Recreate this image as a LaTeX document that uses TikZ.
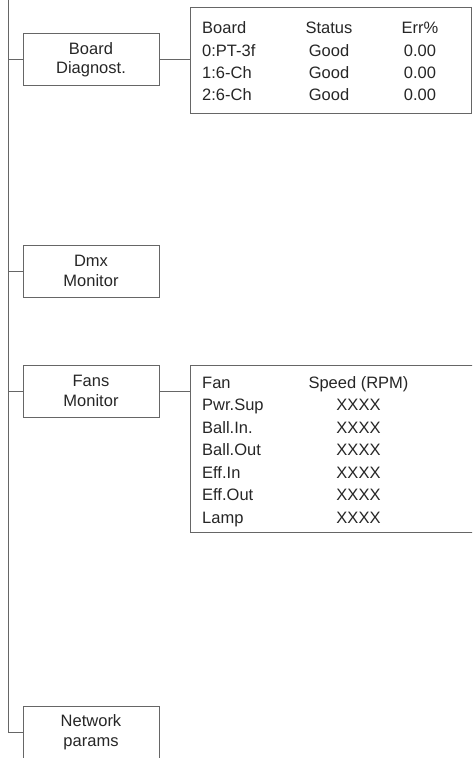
\documentclass[tikz,border=0pt]{standalone}
\usepackage{fontspec}
\setmainfont{Liberation Sans}
\usetikzlibrary{positioning,calc}

\begin{document}
\begin{tikzpicture}[x=1pt, y=-1pt,
  menubox/.style={draw=black!60, line width=0.8pt, minimum width=136pt, minimum height=52pt,
    align=center, inner sep=0pt, font=\fontsize{16.5}{19.5}\selectfont, text=black!85},
  tablebox/.style={draw=black!60, line width=0.8pt, inner sep=0pt},
  link/.style={draw=black!60, line width=0.8pt},
  cell/.style={anchor=base, inner sep=0pt, font=\fontsize{16.5}{22}\selectfont, text=black!85},
  firstcell/.style={cell, anchor=base west}]

  % page frame
  \clip (0,0) rectangle (472,758);

  % Menu entries
  \node[menubox] (board_box) at (91,59.5) {Board\\Diagnost.};
  \node[menubox] (dmx_box) at (91,271) {Dmx\\Monitor};
  \node[menubox] (fans_box) at (91,391) {Fans\\Monitor};
  \node[menubox] (network_box) at (91,732) {Network\\params};

  % Trunk and branches
  \coordinate (trunk_top) at (8,0);
  \draw[link] (trunk_top) -- (trunk_top |- network_box.west) -- (network_box.west);
  \foreach \b in {board_box, dmx_box, fans_box}
    \draw[link] (\b.west -| trunk_top) -- (\b.west);

  % Board diagnostics table
  \node[tablebox, minimum width=281pt, minimum height=106pt] (board_tab) at (330.5,60) {};
  \draw[link] (board_box.east) -- (board_box.east -| board_tab.west);
  \foreach \y/\brd/\stat/\err [count=\i] in {33.5/Board/Status/Err\%, 56/0:PT-3f/Good/0.00,
      78/1:6-Ch/Good/0.00, 100/2:6-Ch/Good/0.00} {
    \node[firstcell] (board_row\i a) at (202,\y) {\brd};
    \node[cell] (board_row\i b) at (329,\y) {\stat};
    \node[cell] (board_row\i c) at (420,\y) {\err};
  }

  % Fans table (runs off the right edge)
  \node[tablebox, minimum width=290pt, minimum height=167pt] (fans_tab) at (335,448.5) {};
  \draw[link] (fans_box.east) -- (fans_box.east -| fans_tab.west);
  \foreach \y/\fan/\rpm [count=\i] in {388/Fan/Speed (RPM), 410.5/Pwr.Sup/XXXX, 433/Ball.In./XXXX,
      455.5/Ball.Out/XXXX, 478/Eff.In/XXXX, 500.5/Eff.Out/XXXX, 523/Lamp/XXXX} {
    \node[firstcell] (fans_row\i a) at (202,\y) {\fan};
    \node[cell] (fans_row\i b) at (358.5,\y) {\rpm};
  }
\end{tikzpicture}
\end{document}
